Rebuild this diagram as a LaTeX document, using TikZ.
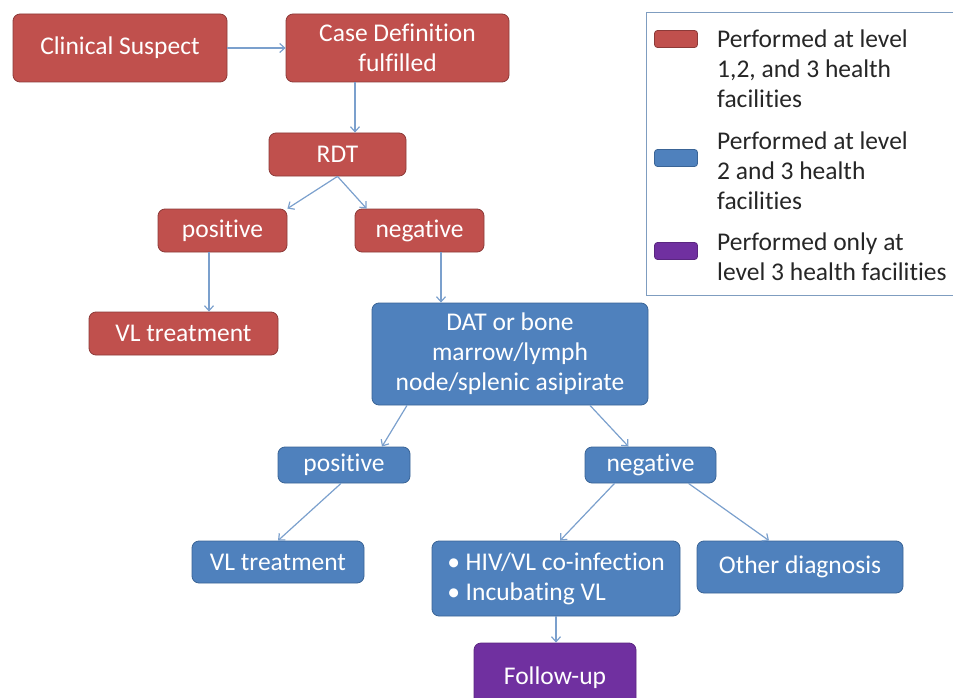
\documentclass[tikz,border=0pt]{standalone}
\usepackage{fontspec}
\setmainfont{Carlito}[Ligatures=NoCommon]
\usetikzlibrary{arrows.meta}
\definecolor{redf}{HTML}{C0504D}
\definecolor{redd}{HTML}{8C3A38}
\definecolor{bluef}{HTML}{4F81BD}
\definecolor{blued}{HTML}{3A6496}
\definecolor{purf}{HTML}{7030A0}
\definecolor{purd}{HTML}{5A2680}
\definecolor{arr}{HTML}{7BA0CD}
\definecolor{legd}{HTML}{7F9DC0}
\definecolor{txt}{HTML}{262626}
\begin{document}
\begin{tikzpicture}[x=1pt,y=-1pt,
  font=\fontsize{25.5}{30}\selectfont,
  boxbase/.style={rounded corners=7pt,text=white,align=center,inner sep=0pt,line width=0.8pt},
  redbox/.style={boxbase,fill=redf,draw=redd},
  bluebox/.style={boxbase,fill=bluef,draw=blued},
  purbox/.style={boxbase,fill=purf,draw=purd},
  conn/.style={draw=arr,line width=1.2pt,-{Straight Barb[length=5pt,width=9pt,line width=1.2pt]}},
  legtext/.style={text=txt,anchor=north west,align=left,inner sep=0pt}]
\useasboundingbox (0,0) rectangle (953,698);

% legend
\draw[legd,line width=1pt] (646,13) rectangle (970,295);
\node[redbox,minimum width=43pt,minimum height=17pt,rounded corners=3pt] (lr) at (676,39) {};
\node[bluebox,minimum width=43pt,minimum height=17pt,rounded corners=3pt] (lb) at (676,158) {};
\node[purbox,minimum width=43pt,minimum height=17pt,rounded corners=3pt] (lp) at (676,251) {};
\node[legtext] (ltr) at (717,30) {Performed at level\\1,2, and 3 health\\facilities};
\node[legtext] (ltb) at (717,132) {Performed at level\\2 and 3 health\\facilities};
\node[legtext] (ltp) at (717,233) {Performed only at\\level 3 health facilities};

% nodes
\node[redbox,minimum width=214pt,minimum height=68pt] (cs) at (120,48) {Clinical Suspect};
\node[redbox,minimum width=223pt,minimum height=68pt] (cd) at (397.5,48) {Case Definition\\fulfilled};
\node[redbox,minimum width=137pt,minimum height=43pt] (rdt) at (337.5,154.5) {RDT};
\node[redbox,minimum width=129pt,minimum height=43pt] (pos1) at (222.5,230.5) {positive};
\node[redbox,minimum width=129pt,minimum height=43pt] (neg1) at (419.5,230.5) {negative};
\node[redbox,minimum width=189pt,minimum height=43pt] (vl1) at (183.5,333.5) {VL treatment};
\node[bluebox,minimum width=276pt,minimum height=102pt] (dat) at (510,354) {DAT or bone\\marrow/lymph\\node/splenic asipirate};
\node[bluebox,minimum width=132pt,minimum height=36pt] (pos2) at (344,465) {positive};
\node[bluebox,minimum width=131pt,minimum height=36pt] (neg2) at (650.5,465) {negative};
\node[bluebox,minimum width=172pt,minimum height=42pt] (vl2) at (278,562) {VL treatment};
\node[bluebox,minimum width=248pt,minimum height=75pt,align=left] (hiv) at (556,578.5) {\textbullet\ HIV/VL co-infection\\\textbullet\ Incubating VL};
\node[bluebox,minimum width=206pt,minimum height=52pt] (oth) at (800,567) {Other diagnosis};
\node[purbox,minimum width=162pt,minimum height=70pt] (fu) at (555,678) {\raisebox{1pt}{Follow-up}};

% connectors
\draw[conn] (cs.east) -- (cd.west);
\draw[conn] ([xshift=-42.5pt]cd.south) -- ([xshift=-42.5pt]cd.south |- rdt.north);
\draw[conn] (rdt.south) -- (pos1.north east);
\draw[conn] (rdt.south) -- ([xshift=12pt]neg1.north west);
\draw[conn] ([xshift=-13.5pt]pos1.south) -- ([xshift=-13.5pt]pos1.south |- vl1.north);
\draw[conn] ([xshift=21.5pt]neg1.south) -- ([xshift=21.5pt]neg1.south |- dat.north);
\draw[conn] ([xshift=-103pt]dat.south) -- ([xshift=38pt]pos2.north);
\draw[conn] ([xshift=80pt]dat.south) -- ([xshift=-22pt]neg2.north);
\draw[conn] ([xshift=-3pt]pos2.south) -- (vl2.north);
\draw[conn] ([xshift=-36pt]neg2.south) -- ([xshift=4pt]hiv.north);
\draw[conn] ([xshift=38pt]neg2.south) -- ([xshift=-31pt]oth.north);
\draw[conn] (hiv.south) -- (hiv.south |- fu.north);
\end{tikzpicture}
\end{document}
